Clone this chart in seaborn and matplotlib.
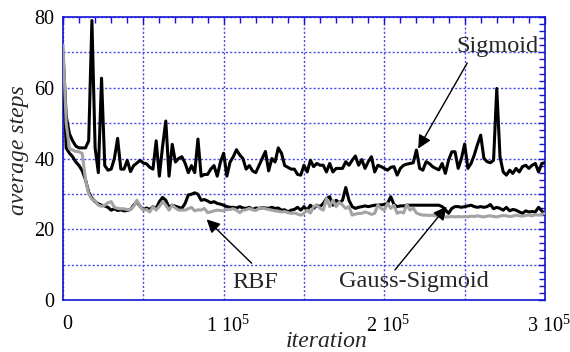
import numpy as np
import pandas as pd
import matplotlib
matplotlib.use('Agg')
import matplotlib.pyplot as plt
import matplotlib.transforms as mtransforms
import seaborn as sns
from matplotlib.ticker import MultipleLocator, FuncFormatter

# sampled every 2000 iterations, 0 .. 300000
iterations = np.arange(0, 300001, 2000)

sigmoid = [
    70, 52, 47, 45, 43.5, 43, 43, 43, 45, 79,
    43, 36, 62.7, 38, 36.7, 37, 40, 45.7, 37, 37,
    39.5, 36.3, 38, 38.7, 39.5, 38.7, 38.5, 37.5, 37, 45,
    35, 43.5, 50.6, 35, 44, 39, 40, 40.5, 38.7, 36,
    38, 36, 45.5, 35, 35.5, 35.5, 37, 38, 35, 39,
    41.5, 35, 39, 40.5, 42.5, 41, 40, 37, 38, 36.5,
    36, 38, 40, 42, 36.5, 40, 39, 43, 41.5, 38,
    37.5, 37, 37, 35.5, 35.3, 38.1, 36.2, 39.5, 37.7, 38.6,
    38.1, 38.1, 36.2, 38.6, 36.2, 37.2, 37.2, 37.2, 39.1, 38.1,
    39.5, 40.7, 38.1, 39.7, 37.2, 39.1, 40.5, 36.2, 38.1, 37.7,
    37.2, 36.7, 37.5, 37.7, 35.3, 37.2, 38.1, 38.4, 38.6, 38.8,
    42.4, 37.2, 36.7, 39.1, 38.6, 37.7, 37.2, 36.8, 38.6, 35.8,
    39.5, 41.9, 41.9, 37.2, 40.0, 44.1, 37.2, 38.6, 41, 44,
    46.6, 40, 39.1, 38.8, 39.5, 59.8, 40.5, 36.2, 35.3, 36.7,
    35.8, 37.2, 36.2, 37.7, 38.1, 37.2, 38.1, 38.6, 36.2, 38.6,
    38.8,
]

gauss_sigmoid = [
    68, 43, 41.5, 40.5, 39, 38, 36.5, 34, 30.5, 28.8,
    27.8, 27.2, 26.8, 26.6, 26.2, 25.4, 25.8, 25.3, 25.5, 25.2,
    25.3, 25.6, 26.8, 27.8, 26.5, 25.5, 26, 25.6, 26.4, 25.9,
    27.8, 29, 28.2, 26.2, 26.8, 26.5, 26.2, 25.9, 27.3, 29.7,
    29.9, 30.3, 29.9, 28.2, 28.4, 28, 27.5, 27.8, 27.3, 27.1,
    26.8, 26.4, 26.2, 26.2, 26, 26.4, 26, 25.9, 26.2, 25.6,
    26, 25.9, 26.1, 26, 25.9, 26.2, 25.9, 26, 25.4, 25.5,
    24.9, 25.4, 25.6, 26.2, 25.4, 26.4, 25.4, 26.8, 25.9, 26.8,
    26.4, 27.3, 28.7, 29.2, 26.8, 28.2, 27.5, 28.2, 31.8, 28.2,
    26.4, 25.9, 26.2, 26.4, 26.6, 26.4, 26.6, 26.8, 26.8, 26.9,
    27, 27.3, 29.2, 27, 26.4, 26.6, 26.6, 26.8, 26.8, 26.8,
    26.8, 26.8, 26.8, 26.8, 26.8, 26.8, 26.8, 26.8, 26.4, 25.5,
    24.5, 25.9, 26.4, 26.4, 26.2, 26.4, 26.6, 26.8, 26.4, 26.2,
    26.4, 26.2, 26.4, 27, 25.8, 26.2, 25.9, 25.4, 26.2, 25.2,
    25.6, 25.4, 24.9, 24.5, 25.2, 24.9, 25, 24.9, 26.2, 25.2,
    24.2,
]

rbf = [
    72, 50, 42.8, 42.4, 42, 41.9, 41.4, 34, 30, 28.5,
    28, 26.8, 26.5, 26.8, 27.5, 27.8, 26.2, 25.9, 25.8, 25.8,
    25.5, 25.6, 26.5, 28.2, 26.5, 25.4, 25.6, 24.9, 26.4, 25.4,
    26.5, 27.8, 26.8, 25.4, 26.8, 26, 25.4, 25.4, 25.4, 25.8,
    26.2, 25.2, 25.5, 25.4, 25.9, 24.7, 24.9, 25.2, 25.4, 25.3,
    25.2, 25.6, 25.6, 25.8, 25.4, 24.7, 25.4, 25.5, 25.9, 25.5,
    25.3, 25.9, 26, 25.8, 25.6, 25.4, 25.2, 25.1, 24.9, 25,
    24.7, 24.5, 24.6, 24.3, 24, 24.5, 25.4, 24.6, 26.4, 26.8,
    25.9, 25.4, 28.7, 26.4, 28.2, 26.4, 27.7, 26.8, 25.9, 26.4,
    24, 24.3, 24.5, 24.5, 24.9, 24.6, 24.2, 24.5, 26.8, 25.9,
    25.4, 27.3, 25.9, 26.8, 24.5, 24.9, 24.6, 27, 25.4, 26,
    24.6, 24.2, 24, 24, 23.9, 24, 23.8, 23.7, 23.6, 23.5,
    23.5, 23.6, 23.5, 23.6, 23.5, 23.6, 23.5, 23.7, 23.6, 23.8,
    23.6, 23.5, 23.7, 23.8, 23.6, 23.5, 23.7, 23.9, 23.8, 23.6,
    23.7, 24, 23.8, 23.7, 23.9, 24, 23.8, 24.1, 24, 24.2,
    24.5,
]

x_ticks_labeled = [0, 100000, 200000, 300000]
y_ticks_labeled = [0, 20, 40, 60, 80]

sns.set_style('white')
plt.rcParams['font.family'] = ['Liberation Serif', 'DejaVu Serif']
plt.rcParams['mathtext.fontset'] = 'custom'
plt.rcParams['mathtext.rm'] = 'Liberation Serif'
plt.rcParams['mathtext.it'] = 'Liberation Serif:italic'

BLUE = '#1414d2'
GRID_BLUE = '#4848e6'

fig = plt.figure(figsize=(5.7, 3.52), dpi=100)
ax = fig.add_axes([0.1105, 0.1477, 0.8456, 0.804])

sns.lineplot(x=iterations, y=sigmoid, color='black', lw=2.2, ax=ax, estimator=None, zorder=3)
sns.lineplot(x=iterations, y=gauss_sigmoid, color='black', lw=2.2, ax=ax, estimator=None, zorder=3)
sns.lineplot(x=iterations, y=rbf, color='#a3a3a3', lw=2.2, ax=ax, estimator=None, zorder=4)

ax.set_xlim(0, 300000)
ax.set_ylim(0, 80)

ax.xaxis.set_major_locator(MultipleLocator(50000))
ax.xaxis.set_minor_locator(MultipleLocator(10000))
ax.yaxis.set_major_locator(MultipleLocator(10))
ax.yaxis.set_minor_locator(MultipleLocator(2))


def xfmt(v, pos):
    for t in x_ticks_labeled:
        if abs(v - t) < 1:
            return '0' if t == 0 else r'%d 10$^5$' % int(t / 100000)
    return ''


def yfmt(v, pos):
    for t in y_ticks_labeled:
        if abs(v - t) < 1e-6:
            return '%d' % t
    return ''


ax.xaxis.set_major_formatter(FuncFormatter(xfmt))
ax.yaxis.set_major_formatter(FuncFormatter(yfmt))

ax.tick_params(which='both', direction='in', top=True, right=True,
               color=BLUE, width=1.0, labelsize=14.5, labelcolor='black')
ax.tick_params(which='major', length=5)
ax.tick_params(which='minor', length=4)
ax.tick_params(axis='x', which='major', pad=11)
ax.tick_params(axis='y', which='major', pad=6)

# shift x tick labels a little to the right, as in the reference
offset = mtransforms.ScaledTranslation(4 / 100, 0, fig.dpi_scale_trans)
for lab in ax.get_xticklabels():
    lab.set_transform(lab.get_transform() + offset)

ax.grid(True, which='major', color=GRID_BLUE, linestyle=(0, (1.5, 1.5)), lw=1.0, zorder=1)
for s in ax.spines.values():
    s.set_color(BLUE)
    s.set_linewidth(1.2)
    s.set_visible(True)

ax.set_xlabel('iteration', fontsize=17, style='italic')
ax.set_ylabel('average steps', fontsize=17, style='italic')
ax.xaxis.set_label_coords(0.548, -0.11)
ax.yaxis.set_label_coords(-0.07, 0.53)

arrow = dict(arrowstyle='-|>', color='black', lw=1.0, mutation_scale=20,
             shrinkA=0, shrinkB=0)
ax.annotate('', xy=(221100, 42.8), xytext=(251600, 67.0), arrowprops=arrow, zorder=5)
ax.annotate('', xy=(89400, 22.8), xytext=(117400, 10.4), arrowprops=arrow, zorder=5)
ax.annotate('', xy=(238800, 26.4), xytext=(206600, 8.5), arrowprops=arrow, zorder=5)

ax.text(270300, 70.1, 'Sigmoid', ha='center', va='baseline', fontsize=17.5)
ax.text(119500, 3.3, 'RBF', ha='center', va='baseline', fontsize=17.5)
ax.text(218400, 3.6, 'Gauss-Sigmoid', ha='center', va='baseline', fontsize=17.5)

fig.savefig('out.png', dpi=100)
